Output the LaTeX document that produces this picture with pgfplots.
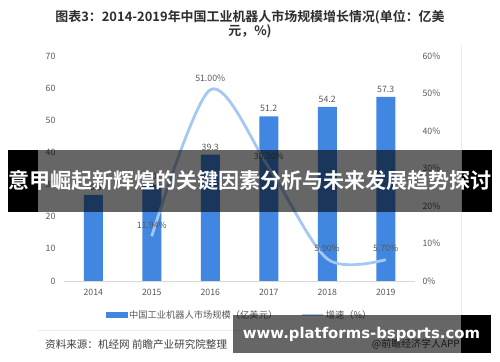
\documentclass[border=0pt]{standalone}
\usepackage{pgfplots}
\pgfplotsset{compat=1.18}
\usepackage{fontspec}
\setmainfont{Noto Sans CJK SC}[BoldFont={Noto Sans CJK SC Bold}]
\newfontfamily\dejavu{DejaVu Sans}[BoldFont={DejaVu Sans Bold}]
\definecolor{barblue}{RGB}{65,135,225}
\definecolor{lineblue}{RGB}{165,200,242}
\definecolor{txt}{RGB}{89,89,89}
\definecolor{ttl}{RGB}{45,45,45}
\definecolor{axgray}{RGB}{217,217,217}
\begin{document}
\begin{tikzpicture}
\path[use as bounding box, fill=white] (0bp,0bp) rectangle (500bp,362bp);
% title
\node[font=\fontsize{13}{15}\selectfont\bfseries, text=ttl, inner sep=0] at (250bp,345bp) {图表3：2014-2019年中国工业机器人市场规模增长情况(单位：亿美};
\node[font=\fontsize{13}{15}\selectfont\bfseries, text=ttl, inner sep=0] at (250bp,331bp) {元，\%)};
% frame lines
\draw[color={rgb,255:red,236;green,236;blue,236}] (461bp,317bp) -- (461bp,32bp);
\draw[color={rgb,255:red,236;green,236;blue,236}] (38bp,32bp) -- (461bp,32bp);
\begin{axis}[at={(64bp,81bp)}, anchor=south west, scale only axis,
  width=351bp, height=225bp,
  xmin=2013.5, xmax=2019.5, ymin=0, ymax=70,
  axis x line*=bottom, axis y line*=left,
  y axis line style={draw=none},
  x axis line style={draw=axgray, -},
  major tick length=0,
  xtick={2014,2015,2016,2017,2018,2019},
  xticklabels={2014,2015,2016,2017,2018,2019},
  ytick={0,10,...,70},
  ticklabel style={font=\fontsize{8.8}{10}\selectfont, text=txt},
  /pgf/number format/assume math mode=true,
  yticklabel style={xshift=-5bp},
  xticklabel style={yshift=-5bp},
  clip=false,
]
\addplot[ybar, bar width=19bp, fill=barblue, draw=none,
  nodes near coords,
  every node near coord/.append style={font=\fontsize{8.8}{10}\selectfont, text=txt, /pgf/number format/assume math mode=true, yshift=1bp}]
  coordinates {(2014,26.8) (2015,30) (2016,39.3) (2017,51.2) (2018,54.2) (2019,57.3)};
\end{axis}
\begin{axis}[at={(64bp,81bp)}, anchor=south west, scale only axis,
  width=351bp, height=225bp,
  xmin=2013.5, xmax=2019.5, ymin=0, ymax=60,
  axis x line=none, axis y line*=right,
  y axis line style={draw=none},
  major tick length=0,
  ytick={0,10,...,60},
  yticklabel={\pgfmathprintnumber{\tick}\%},
  ticklabel style={font=\fontsize{8.8}{10}\selectfont, text=txt},
  /pgf/number format/assume math mode=true,
  yticklabel style={xshift=4bp},
  clip=false,
  legend style={at={(0.5,-0.151)}, anchor=center, legend columns=2, draw=none, fill=none,
    font=\fontsize{9.3}{11}\selectfont, text=txt,
    /tikz/every even column/.append style={column sep=22bp}},
]
\addlegendimage{legend image code/.code={\fill[barblue] (0bp,-2.5bp) rectangle (21bp,2.5bp);}}
\addlegendentry{中国工业机器人市场规模（亿美元）}
\addplot[color=lineblue, line width=2.8bp, smooth, mark=none,
  legend image code/.code={\draw[lineblue, line width=1.5bp] (0bp,0bp) -- (21bp,0bp);},
  point meta=explicit symbolic,
  nodes near coords,
  every node near coord/.append style={font=\fontsize{8.8}{10}\selectfont, text=txt, yshift=3bp}]
  coordinates {(2015,11.94) [11.94\%] (2016,51.00) [51.00\%] (2017,30.30) [30.30\%] (2018,5.90) [5.90\%] (2019,5.70) [5.70\%]};
\addlegendentry{增速（\%）}
\end{axis}
% source
\node[anchor=west, font=\fontsize{10.6}{12}\selectfont, text={rgb,255:red,64;green,64;blue,64}, inner sep=0] at (45bp,18bp) {资料来源：机经网 前瞻产业研究院整理};
\node[anchor=east, font=\fontsize{10}{12}\selectfont, text={rgb,255:red,64;green,64;blue,64}, inner sep=0] at (460bp,18bp) {@前瞻经济学人APP};
% banner 1
\fill[black] (8bp,150bp) rectangle (38bp,212bp);
\fill[black] (462bp,150bp) rectangle (492bp,212bp);
\fill[black, opacity=0.6] (38bp,150bp) rectangle (462bp,212bp);
\node[text=white, inner sep=0, font=\bfseries] at (250bp,181bp) {\resizebox{484bp}{!}{意甲崛起新辉煌的关键因素分析与未来发展趋势探讨}};
% banner 2
\fill[black, opacity=0.6] (233bp,9bp) rectangle (461bp,47bp);
\fill[black] (461bp,9bp) rectangle (491bp,47bp);
\node[text=white, inner sep=0, font=\dejavu\bfseries] at (361.5bp,28bp) {\resizebox{237bp}{!}{www.platforms-bsports.com}};
\end{tikzpicture}
\end{document}
